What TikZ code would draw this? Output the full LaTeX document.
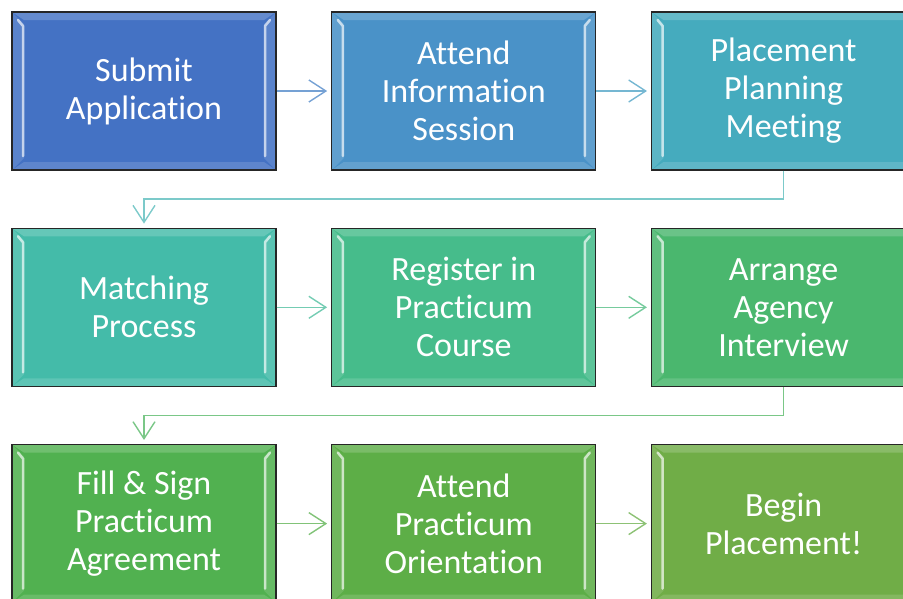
\documentclass[tikz,border=0pt]{standalone}
\usepackage{fontspec}
\setmainfont{Carlito}[Ligatures=NoCommon]
\usetikzlibrary{positioning,arrows.meta,calc}

\definecolor{tone1}{HTML}{4472C4}
\definecolor{tone2}{HTML}{4A92C8}
\definecolor{tone3}{HTML}{45ABBE}
\definecolor{tone4}{HTML}{44BBA9}
\definecolor{tone5}{HTML}{46BC8B}
\definecolor{tone6}{HTML}{4AB76E}
\definecolor{tone7}{HTML}{51B150}
\definecolor{tone8}{HTML}{5DAE47}
\definecolor{tone9}{HTML}{70AD47}

\tikzset{
  stepbox/.style={draw=black!85,line width=1.3pt,fill=#1,
    minimum width=264pt,minimum height=158pt,inner sep=0pt,
    text=white,align=center,font=\fontsize{34}{38}\selectfont,
    path picture={
      % bevelled rim: lighter bands plus a bright inner edge left and right
      \fill[white,opacity=.18] (path picture bounding box.north west) -- (path picture bounding box.north east)
        -- ([shift={(-12,8)}]path picture bounding box.north east) -- ([shift={(12,8)}]path picture bounding box.north west) -- cycle;
      \fill[white,opacity=.14] (path picture bounding box.south west) -- (path picture bounding box.south east)
        -- ([shift={(-12,-8)}]path picture bounding box.south east) -- ([shift={(12,-8)}]path picture bounding box.south west) -- cycle;
      \fill[white,opacity=.12] (path picture bounding box.north west) -- ([shift={(12,12)}]path picture bounding box.north west)
        -- ([shift={(12,-12)}]path picture bounding box.south west) -- (path picture bounding box.south west) -- cycle;
      \fill[white,opacity=.12] (path picture bounding box.north east) -- ([shift={(-12,12)}]path picture bounding box.north east)
        -- ([shift={(-12,-12)}]path picture bounding box.south east) -- (path picture bounding box.south east) -- cycle;
      \draw[white,opacity=.65,line width=2.5pt,line cap=round] ([shift={(6,8)}]path picture bounding box.north west)
        -- ([shift={(11,14)}]path picture bounding box.north west) -- ([shift={(11,-14)}]path picture bounding box.south west);
      \draw[white,opacity=.65,line width=2.5pt,line cap=round] ([shift={(-6,8)}]path picture bounding box.north east)
        -- ([shift={(-11,14)}]path picture bounding box.north east) -- ([shift={(-11,-14)}]path picture bounding box.south east);
    }},
  link/.style={draw=#1,line width=1.4pt,shorten >=4pt,
    -{Straight Barb[length=17pt,width=22pt,line width=1.4pt]}}
}

\begin{document}
\begin{tikzpicture}[x=1pt,y=-1pt,node distance=57pt and 54.5pt]
\useasboundingbox (0,0) rectangle (903,598);

% first row
\node[stepbox=tone1] (submit) at (144,91) {Submit\\Application};
\node[stepbox=tone2,right=of submit] (info) {Attend\\Information\\Session};
\node[stepbox=tone3,right=of info] (planning) {Placement\\Planning\\Meeting};
% second row
\node[stepbox=tone4,below=of submit] (matching) {Matching\\Process};
\node[stepbox=tone5,right=of matching] (register) {Register in\\Practicum\\Course};
\node[stepbox=tone6,right=of register] (interview) {Arrange\\Agency\\Interview};
% third row
\node[stepbox=tone7,below=of matching] (agreement) {Fill \& Sign\\Practicum\\Agreement};
\node[stepbox=tone8,right=of agreement] (orientation) {Attend\\Practicum\\Orientation};
\node[stepbox=tone9,right=of orientation] (begin) {Begin\\Placement!};

\draw[link=tone1!50!tone2!75!white] (submit) -- (info);
\draw[link=tone2!50!tone3!75!white] (info) -- (planning);
\draw[link=tone3!50!tone4!70!white] (planning.south) |- ($(planning.south)!.5!(matching.north)$) -| (matching.north);
\draw[link=tone4!50!tone5!75!white] (matching) -- (register);
\draw[link=tone5!50!tone6!75!white] (register) -- (interview);
\draw[link=tone6!50!tone7!75!white] (interview.south) |- ($(interview.south)!.5!(agreement.north)$) -| (agreement.north);
\draw[link=tone7!50!tone8!75!white] (agreement) -- (orientation);
\draw[link=tone8!50!tone9!75!white] (orientation) -- (begin);
\end{tikzpicture}
\end{document}
